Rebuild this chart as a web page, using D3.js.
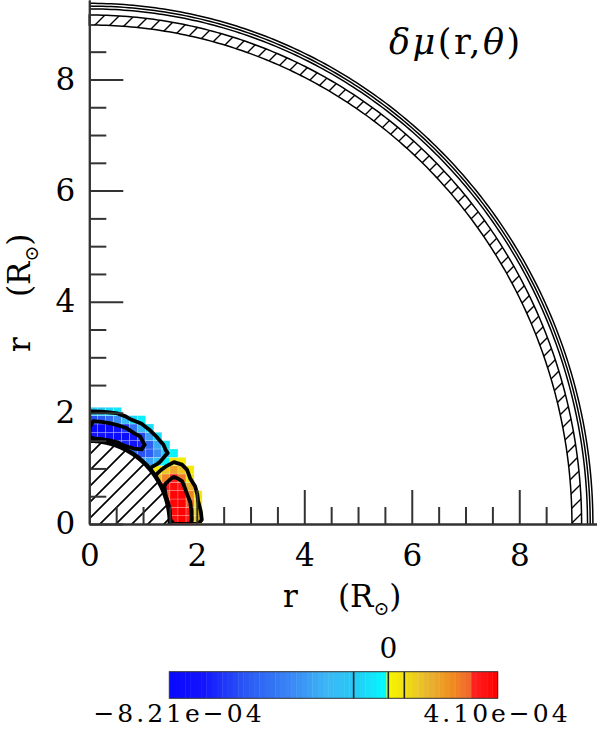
<!DOCTYPE html>
<html>
<head>
<meta charset="utf-8">
<script src="https://cdn.jsdelivr.net/npm/d3@7"></script>
<style>
body { margin: 0; background: #fff; }
svg text { font-family: "DejaVu Serif", serif; fill: #000; }
</style>
</head>
<body>
<div id="chart"></div>
<script>
const width = 597,
height = 729;

// grid of cells, R_sun units
const cellSize = 0.15;
const nCells = 15;

// delta mu (units of 1e-4) per cell, top row first (y = 2.10-2.25 down to 0-0.15)
const deltaMuRows = [
  [null, null, null, null, null, null, null, null, null, null, null, null, null, null, null],
  [-1.3, -1.2, -0.9, -0.6, null, null, null, null, null, null, null, null, null, null, null],
  [-5.6, -5.3, -4.7, -3.5, -2.2, -1.0, -0.4, null, null, null, null, null, null, null, null],
  [-8.2, -8.2, -7.9, -7.4, -6.2, -4.4, -2.3, -0.8, null, null, null, null, null, null, null],
  [-6.9, -7.2, -7.6, -7.8, -7.8, -7.2, -5.7, -3.0, -0.9, null, null, null, null, null, null],
  [-3.0, -3.3, -4.2, -5.2, -6.5, -7.2, -6.6, -5.0, -2.7, -0.7, null, null, null, null, null],
  [null, null, null, null, -3.0, -4.5, -5.5, -5.1, -3.5, -1.6, -0.3, null, null, null, null],
  [null, null, null, null, null, null, -2.9, -2.9, -1.8, -0.2, 0.5, 0.25, null, null, null],
  [null, null, null, null, null, null, null, -0.9, 0.2, 1.15, 1.85, 1.2, 0.25, null, null],
  [null, null, null, null, null, null, null, null, 1.3, 2.5, 3.2, 2.7, 0.6, null, null],
  [null, null, null, null, null, null, null, null, 1.7, 3.3, 3.8, 3.55, 1.65, null, null],
  [null, null, null, null, null, null, null, null, null, 3.1, 4.0, 4.0, 2.5, 0.4, null],
  [null, null, null, null, null, null, null, null, null, 2.6, 3.95, 4.05, 3.1, 0.65, null],
  [null, null, null, null, null, null, null, null, null, 2.2, 3.8, 4.1, 3.4, 0.9, null],
  [null, null, null, null, null, null, null, null, null, 2.1, 3.75, 4.1, 3.45, 1.1, null],
];

const negLevels = [1.3, 6.0];   // contours of -delta mu
const posLevels = [0.6, 3.0];
const colorbarMarks = [-1.3, 0, 0.6];
const muMin = -8.21, muMax = 4.10;

const colorStops = [-8.21, -6.95, -5.45, -3.57, -2.30, -1.31, -0.01, 0, 0.62, 1.45, 2.31, 3.17, 3.2, 4.11];
const colorValues = ["#0808ff", "#1414ff", "#2a55f5", "#3a8af5", "#3cb8f5", "#28c8f5", "#00ffff",
  "#f8f400", "#f0e010", "#e8b830", "#f09020", "#f06030", "#ff2020", "#ff0000"];

const majorTicks = [0, 2, 4, 6, 8];
const minorTicks = [0.5, 1, 1.5, 2.5, 3, 3.5, 4.5, 5, 5.5, 6.5, 7, 7.5, 8.5];

const coreRadius = 1.5;
const envelopeHatch = [8.98, 9.16];
const surfaceRings = [9.27, 9.32, 9.37];

const colorbarLabels = ["\u22128.21e\u221204", "4.10e\u221204"];

const xScale = d3.scaleLinear().domain([0, 9.45]).range([89.3, 597.2]);
const yScale = d3.scaleLinear().domain([0, 9.43]).range([524, 0]);
const colorScale = d3.scaleLinear().domain(colorStops).range(colorValues).clamp(true);

const svg = d3.select("#chart")
  .append("svg")
  .attr("width", width)
  .attr("height", height);

const defs = svg.append("defs");

function hatch(id, size, w) {
  const p = defs.append("pattern")
    .attr("id", id)
    .attr("patternUnits", "userSpaceOnUse")
    .attr("width", size)
    .attr("height", size);
  p.append("rect").attr("width", size).attr("height", size).attr("fill", "#fff");
  p.append("path")
    .attr("d", `M-2,2L2,-2M0,${size}L${size},0M${size - 2},${size + 2}L${size + 2},${size - 2}`)
    .attr("stroke", "#000")
    .attr("stroke-width", w);
}
hatch("hatchCore", 16, 1.7);
hatch("hatchEnv", 15, 1.4);

defs.append("clipPath")
  .attr("id", "quadrant")
  .append("rect")
  .attr("x", xScale(0) + 1)
  .attr("y", 0)
  .attr("width", width)
  .attr("height", yScale(0) - 1);

// flatten with row 0 at the bottom
const rows = deltaMuRows.slice().reverse();
const cells = [];
rows.forEach((row, j) => row.forEach((v, i) => {
  if (v !== null) cells.push({ i, j, v });
}));

svg.append("g")
  .selectAll("rect")
  .data(cells)
  .join("rect")
  .attr("x", d => xScale(d.i * cellSize))
  .attr("y", d => yScale((d.j + 1) * cellSize))
  .attr("width", d => xScale((d.i + 1) * cellSize) - xScale(d.i * cellSize))
  .attr("height", d => yScale(d.j * cellSize) - yScale((d.j + 1) * cellSize))
  .attr("fill", d => colorScale(d.v))
  .attr("stroke", "rgba(255,255,255,0.3)")
  .attr("stroke-width", 0.7);

// contours
const flat = rows.flat();
const gridPath = d3.geoPath(d3.geoTransform({
  point: function(x, y) {
    this.stream.point(xScale(x * cellSize), yScale(y * cellSize));
  }
}));

const contourG = svg.append("g").attr("clip-path", "url(#quadrant)");

const negField = flat.map(v => v === null ? 0 : -v);
const posField = flat.map(v => v === null ? 0 : v);

contourG.selectAll(".neg")
  .data(d3.contours().size([nCells, nCells]).thresholds(negLevels)(negField))
  .join("path")
  .attr("class", "neg")
  .attr("d", gridPath)
  .attr("fill", "none")
  .attr("stroke", "#000")
  .attr("stroke-width", 3.8)
  .attr("stroke-linejoin", "round");

contourG.selectAll(".pos")
  .data(d3.contours().size([nCells, nCells]).thresholds(posLevels)(posField))
  .join("path")
  .attr("class", "pos")
  .attr("d", gridPath)
  .attr("fill", "none")
  .attr("stroke", "#000")
  .attr("stroke-width", 3.8)
  .attr("stroke-linejoin", "round");

// arcs
const angles = d3.range(0, 90.5, 0.5).map(a => a * Math.PI / 180);
function arcPoints(r) {
  return angles.map(a => [xScale(r * Math.cos(a)), yScale(r * Math.sin(a))]);
}
const line = d3.line();

// hatched core
svg.append("path")
  .attr("d", line([[xScale(0), yScale(0)], ...arcPoints(coreRadius)]) + "Z")
  .attr("fill", "url(#hatchCore)");

svg.append("path")
  .attr("d", line(arcPoints(coreRadius)))
  .attr("fill", "none")
  .attr("stroke", "#000")
  .attr("stroke-width", 4.5);

// hatched envelope shell
svg.append("path")
  .attr("d", line([...arcPoints(envelopeHatch[1]), ...arcPoints(envelopeHatch[0]).reverse()]) + "Z")
  .attr("fill", "url(#hatchEnv)")
  .attr("stroke", "#000")
  .attr("stroke-width", 1.5);

svg.append("g")
  .selectAll("path")
  .data(surfaceRings)
  .join("path")
  .attr("d", r => line(arcPoints(r)))
  .attr("fill", "none")
  .attr("stroke", "#000")
  .attr("stroke-width", 1.5);

// axes
const axisColor = "#333";

function styleAxis(g) {
  g.attr("font-size", 31).attr("font-family", "DejaVu Serif, serif");
  g.select(".domain").attr("stroke", axisColor).attr("stroke-width", 2);
  g.selectAll(".tick line").attr("stroke", axisColor).attr("stroke-width", 2);
  g.selectAll(".tick text").attr("fill", "#000");
}

svg.append("g")
  .attr("transform", `translate(0,${yScale(0)})`)
  .call(d3.axisBottom(xScale).tickValues(minorTicks).tickSize(-17).tickSizeOuter(0).tickFormat(""))
  .call(styleAxis);

svg.append("g")
  .attr("transform", `translate(0,${yScale(0)})`)
  .call(d3.axisBottom(xScale).tickValues(majorTicks).tickSize(-34).tickSizeOuter(0).tickPadding(20).tickFormat(d3.format("d")))
  .call(styleAxis);

svg.append("g")
  .attr("transform", `translate(${xScale(0)},0)`)
  .call(d3.axisLeft(yScale).tickValues(minorTicks).tickSize(-17).tickSizeOuter(0).tickFormat(""))
  .call(styleAxis);

svg.append("g")
  .attr("transform", `translate(${xScale(0)},0)`)
  .call(d3.axisLeft(yScale).tickValues(majorTicks).tickSize(-34).tickSizeOuter(0).tickPadding(14).tickFormat(d3.format("d")))
  .call(styleAxis);

// axis titles
function axisTitle(g, x0, y0) {
  g.append("text").attr("x", x0).attr("y", y0).attr("font-size", 31).text("r");
  const t = g.append("text").attr("x", x0 + 55).attr("y", y0).attr("font-size", 31);
  t.append("tspan").text("(R");
  t.append("tspan").attr("font-size", 19).attr("dy", 8).text("\u2299");
  t.append("tspan").attr("dy", -8).text(")");
}
axisTitle(svg.append("g"), 283, 607);
axisTitle(svg.append("g").attr("transform", "translate(30,0) rotate(-90)"), -352, 0);

// title
const title = svg.append("text")
  .attr("x", 389)
  .attr("y", 54)
  .attr("font-size", 35)
  .attr("letter-spacing", 2.5);
title.append("tspan").attr("font-style", "italic").text("\u03b4\u03bc");
title.append("tspan").text("(r,");
title.append("tspan").attr("font-style", "italic").text("\u03b8");
title.append("tspan").text(")");

// colorbar
const cbX = d3.scaleLinear().domain([muMin, muMax]).range([169.3, 497.7]);
const cbTop = 671.7, cbHeight = 26.6;
const nBands = 62;
const bandW = (muMax - muMin) / nBands;
const bands = d3.range(nBands).map(k => muMin + k * bandW);

const cb = svg.append("g");
cb.selectAll("rect")
  .data(bands)
  .join("rect")
  .attr("x", d => cbX(d))
  .attr("y", cbTop)
  .attr("width", cbX(muMin + bandW) - cbX(muMin) + 0.4)
  .attr("height", cbHeight)
  .attr("fill", d => colorScale(Math.abs(d + bandW / 2) < bandW / 2 ? (d + bandW / 2 < 0 ? -0.02 : 0.01) : d + bandW / 2));

cb.selectAll("line")
  .data(colorbarMarks)
  .join("line")
  .attr("x1", d => cbX(d))
  .attr("x2", d => cbX(d))
  .attr("y1", cbTop)
  .attr("y2", cbTop + cbHeight)
  .attr("stroke", "#222")
  .attr("stroke-width", 1.6);

cb.append("rect")
  .attr("x", cbX(muMin))
  .attr("y", cbTop)
  .attr("width", cbX(muMax) - cbX(muMin))
  .attr("height", cbHeight)
  .attr("fill", "none")
  .attr("stroke", "#333")
  .attr("stroke-width", 1);

cb.append("text")
  .attr("x", cbX(0))
  .attr("y", 658)
  .attr("font-size", 28)
  .attr("text-anchor", "middle")
  .text("0");

cb.append("text")
  .attr("x", 179)
  .attr("y", 722)
  .attr("font-size", 25)
  .attr("letter-spacing", 3)
  .attr("text-anchor", "middle")
  .text(colorbarLabels[0]);

cb.append("text")
  .attr("x", 497)
  .attr("y", 722)
  .attr("font-size", 25)
  .attr("letter-spacing", 3)
  .attr("text-anchor", "middle")
  .text(colorbarLabels[1]);
</script>
</body>
</html>
